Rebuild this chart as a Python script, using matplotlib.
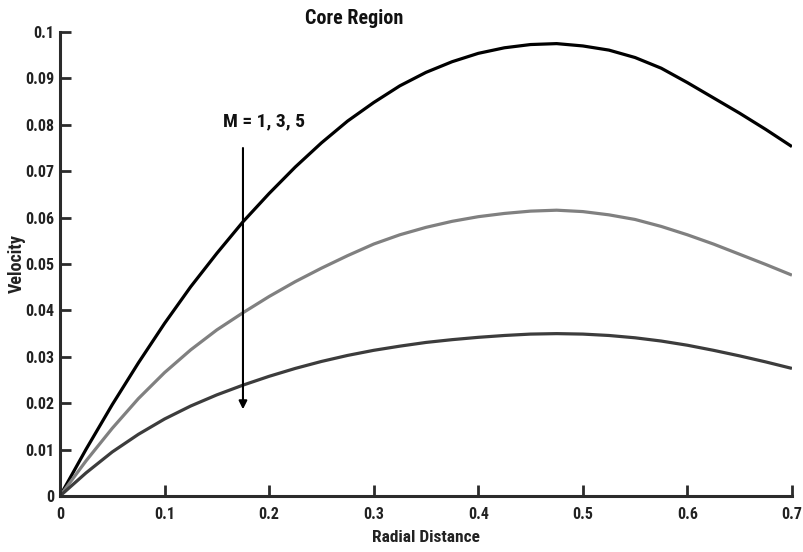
import matplotlib
matplotlib.use("Agg")
import matplotlib.pyplot as plt

plt.rcParams["font.family"] = ["Liberation Sans Narrow", "DejaVu Sans Condensed", "Roboto Condensed",
                               "Liberation Sans", "DejaVu Sans"]
plt.rcParams["font.weight"] = "bold"

# radial positions and velocity profiles for M = 1, 3, 5
radial = [0.0, 0.025, 0.05, 0.075, 0.1, 0.125, 0.15, 0.175, 0.2, 0.225, 0.25, 0.275, 0.3, 0.325, 0.35,
          0.375, 0.4, 0.425, 0.45, 0.475, 0.5, 0.525, 0.55, 0.575, 0.6, 0.625, 0.65, 0.675, 0.7]
vel_m1 = [0.0, 0.0101, 0.0197, 0.0287, 0.0372, 0.0451, 0.0523, 0.0591, 0.0652, 0.0709, 0.0761, 0.0808,
          0.0848, 0.0884, 0.0913, 0.0936, 0.0954, 0.0966, 0.0973, 0.0975, 0.0970, 0.0961, 0.0945, 0.0922,
          0.0891, 0.0858, 0.0825, 0.0790, 0.0753]
vel_m3 = [0.0, 0.0076, 0.0146, 0.0210, 0.0266, 0.0315, 0.0358, 0.0395, 0.0430, 0.0462, 0.0491, 0.0518,
          0.0543, 0.0563, 0.0579, 0.0592, 0.0602, 0.0609, 0.0614, 0.0616, 0.0613, 0.0606, 0.0596, 0.0581,
          0.0563, 0.0543, 0.0521, 0.0499, 0.0476]
vel_m5 = [0.0, 0.0050, 0.0095, 0.0133, 0.0166, 0.0194, 0.0218, 0.0239, 0.0258, 0.0275, 0.0290, 0.0303,
          0.0314, 0.0323, 0.0331, 0.0337, 0.0342, 0.0346, 0.0349, 0.0350, 0.0349, 0.0346, 0.0341, 0.0334,
          0.0325, 0.0314, 0.0302, 0.0289, 0.0275]

x_ticks = [0, 0.1, 0.2, 0.3, 0.4, 0.5, 0.6, 0.7]
x_labels = ["0", "0.1", "0.2", "0.3", "0.4", "0.5", "0.6", "0.7"]
y_ticks = [0, 0.01, 0.02, 0.03, 0.04, 0.05, 0.06, 0.07, 0.08, 0.09, 0.1]
y_labels = ["0", "0.01", "0.02", "0.03", "0.04", "0.05", "0.06", "0.07", "0.08", "0.09", "0.1"]

fig = plt.figure(figsize=(8.04, 5.52), dpi=100)
ax = fig.add_axes([0.0746, 0.1014, 0.9104, 0.8406])

ax.plot(radial, vel_m1, color="#000000", lw=2.3, solid_capstyle="butt")
ax.plot(radial, vel_m3, color="#808080", lw=2.3, solid_capstyle="butt")
ax.plot(radial, vel_m5, color="#3c3c3c", lw=2.3, solid_capstyle="butt")

ax.set_xlim(0, 0.7)
ax.set_ylim(0, 0.1)
ax.set_xticks(x_ticks)
ax.set_xticklabels(x_labels)
ax.set_yticks(y_ticks)
ax.set_yticklabels(y_labels)
ax.tick_params(direction="in", length=8, width=2, colors="#2b2b2b", labelsize=11.5)
ax.tick_params(axis="x", pad=8)
ax.tick_params(axis="y", pad=4)
for lab in ax.get_xticklabels() + ax.get_yticklabels():
    lab.set_color("#222222")
    lab.set_fontweight("bold")

for side in ("top", "right"):
    ax.spines[side].set_visible(False)
for side in ("left", "bottom"):
    ax.spines[side].set_linewidth(2.2)
    ax.spines[side].set_color("#2b2b2b")

ax.set_xlabel("Radial Distance", fontsize=12.5, fontweight="bold", color="#222222")
ax.set_ylabel("Velocity", fontsize=13, fontweight="bold", color="#222222")
ax.xaxis.set_label_coords(0.5, -0.074)
ax.yaxis.set_label_coords(-0.047, 0.5)

fig.text(0.441, 0.966, "Core Region", ha="center", va="center", fontsize=14.5, fontweight="bold",
         color="#111111")

ax.annotate("", xy=(0.175, 0.0181), xytext=(0.175, 0.0756),
            arrowprops=dict(arrowstyle="-|>", color="black", lw=1.5, mutation_scale=12))
ax.text(0.195, 0.0807, "M = 1, 3, 5", ha="center", va="center", fontsize=14, fontweight="bold",
        color="#111111")

fig.savefig("out.png", dpi=100)
